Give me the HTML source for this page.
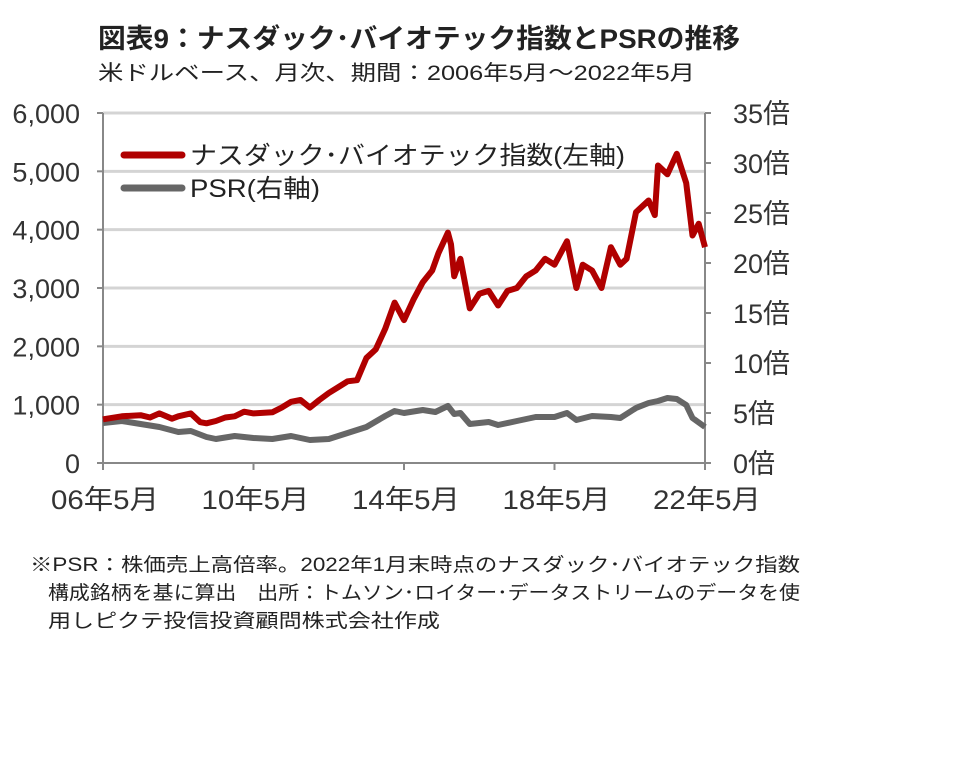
<!DOCTYPE html>
<html><head><meta charset="utf-8">
<style>
body{margin:0;background:#fff;}
svg text{font-family:"Liberation Sans","Noto Sans CJK JP",sans-serif;}
</style></head>
<body>
<svg id="chart" width="964" height="752" viewBox="0 0 964 752" xmlns="http://www.w3.org/2000/svg">
<rect width="964" height="752" fill="#fff"/>
<text x="98" y="48" font-size="27" font-weight="bold" fill="#222" textLength="642" lengthAdjust="spacingAndGlyphs">図表9：ナスダック･バイオテック指数とPSRの推移</text>
<text x="98" y="80" font-size="21" fill="#222" textLength="597" lengthAdjust="spacingAndGlyphs">米ドルベース、月次、期間：2006年5月～2022年5月</text>
<g id="grid"></g>
<g id="axes"></g>
<g id="series"></g>
<g>
<line x1="124" y1="155" x2="182" y2="155" stroke="#b00000" stroke-width="7" stroke-linecap="round"/>
<text x="190" y="164" font-size="25" fill="#222" textLength="435" lengthAdjust="spacingAndGlyphs">ナスダック･バイオテック指数(左軸)</text>
<line x1="124" y1="188" x2="182" y2="188" stroke="#666" stroke-width="7" stroke-linecap="round"/>
<text x="190" y="197" font-size="25" fill="#222" textLength="130" lengthAdjust="spacingAndGlyphs">PSR(右軸)</text>
</g>
<text x="30" y="571" font-size="19" fill="#222" textLength="770" lengthAdjust="spacingAndGlyphs">※PSR：株価売上高倍率。2022年1月末時点のナスダック･バイオテック指数</text>
<text x="48" y="599" font-size="19" fill="#222" textLength="752" lengthAdjust="spacingAndGlyphs">構成銘柄を基に算出　出所：トムソン･ロイター･データストリームのデータを使</text>
<text x="48" y="627" font-size="19" fill="#222" textLength="392" lengthAdjust="spacingAndGlyphs">用しピクテ投信投資顧問株式会社作成</text>
</svg>
<script>
const idxDates=["2006-05","2006-11","2007-05","2007-08","2007-11","2008-03","2008-05","2008-09","2008-12","2009-02","2009-05","2009-08","2009-11","2010-02","2010-05","2010-11","2011-02","2011-05","2011-08","2011-11","2012-02","2012-05","2012-08","2012-11","2013-02","2013-05","2013-08","2013-11","2014-02","2014-05","2014-08","2014-11","2015-02","2015-04","2015-07","2015-08","2015-09","2015-11","2016-02","2016-05","2016-08","2016-11","2017-02","2017-05","2017-08","2017-11","2018-02","2018-05","2018-09","2018-12","2019-02","2019-05","2019-08","2019-11","2020-02","2020-04","2020-07","2020-11","2021-01","2021-02","2021-05","2021-08","2021-11","2022-01","2022-03","2022-05"];
const idxValues=[750,800,820,780,850,760,800,850,700,680,720,780,800,880,850,870,950,1050,1080,950,1080,1200,1300,1400,1420,1800,1950,2300,2750,2450,2800,3100,3300,3600,3950,3750,3200,3500,2650,2900,2950,2700,2950,3000,3200,3300,3500,3400,3800,3000,3400,3300,3000,3700,3400,3500,4300,4500,4250,5100,4950,5300,4800,3900,4100,3700];
const psrDates=["2006-05","2006-11","2007-05","2007-11","2008-05","2008-09","2009-02","2009-05","2009-11","2010-05","2010-11","2011-05","2011-11","2012-05","2012-11","2013-05","2013-11","2014-02","2014-05","2014-11","2015-03","2015-07","2015-09","2015-11","2016-02","2016-08","2016-11","2017-05","2017-11","2018-05","2018-09","2018-12","2019-05","2019-11","2020-02","2020-07","2020-11","2021-02","2021-05","2021-08","2021-11","2022-01","2022-05"];
const psrValues=[4.0,4.2,3.9,3.6,3.1,3.2,2.6,2.4,2.7,2.5,2.4,2.7,2.3,2.4,3.0,3.6,4.7,5.2,5.0,5.3,5.1,5.7,4.9,5.0,3.9,4.1,3.8,4.2,4.6,4.6,5.0,4.3,4.7,4.6,4.5,5.5,6.0,6.2,6.5,6.4,5.8,4.5,3.6];
const leftTicks=[0,1000,2000,3000,4000,5000,6000];
const leftTickLabels=["0","1,000","2,000","3,000","4,000","5,000","6,000"];
const rightTicks=[0,5,10,15,20,25,30,35];
const rightTickLabels=["0倍","5倍","10倍","15倍","20倍","25倍","30倍","35倍"];
const xTicks=["2006-05","2010-05","2014-05","2018-05","2022-05"];
const xTickLabels=["06年5月","10年5月","14年5月","18年5月","22年5月"];

const X0=103,X1=705,Y0=463,Y1=113;
const NS="http://www.w3.org/2000/svg";
function mIdx(d){const [y,m]=d.split("-").map(Number);return (y-2006)*12+(m-5);}
function xs(d){return X0+(X1-X0)*mIdx(d)/192;}
function yl(v){return Y0-(Y0-Y1)*v/6000;}
function yr(v){return Y0-(Y0-Y1)*v/35;}
function mk(tag,attrs,parent){const e=document.createElementNS(NS,tag);for(const k in attrs)e.setAttribute(k,attrs[k]);parent.appendChild(e);return e;}
const grid=document.getElementById("grid"),axes=document.getElementById("axes"),series=document.getElementById("series");
leftTicks.forEach((t,i)=>{
  if(t>0){const g=mk("line",{x1:X0,x2:X1,y1:yl(t),y2:yl(t),stroke:"#d4d4d4","stroke-width":3},grid);
  
  }
  const tk=mk("line",{x1:X0-6,x2:X0,y1:yl(t),y2:yl(t),stroke:"#888","stroke-width":2},axes);
  
  
  const tx=mk("text",{x:X0-23,y:yl(t)+10,"text-anchor":"end","font-size":27,fill:"#333"},axes);
  tx.textContent=leftTickLabels[i];
  
  
});
rightTicks.forEach((t,i)=>{
  const tk=mk("line",{x1:X1,x2:X1+6,y1:yr(t),y2:yr(t),stroke:"#888","stroke-width":2},axes);
  
  
  const tx=mk("text",{x:X1+28,y:yr(t)+10,"font-size":27,fill:"#333"},axes);
  tx.textContent=rightTickLabels[i];
  
  
});
xTicks.forEach((d,i)=>{
  const tk=mk("line",{x1:xs(d),x2:xs(d),y1:Y0,y2:Y0+7,stroke:"#888","stroke-width":2},axes);
  
  
  const tx=mk("text",{x:xs(d)+2,y:Y0+46,"text-anchor":"middle","font-size":27,fill:"#333",textLength:108,lengthAdjust:"spacingAndGlyphs"},axes);
  tx.textContent=xTickLabels[i];
  
  
});
const la=mk("line",{x1:X0,x2:X0,y1:Y1,y2:Y0,stroke:"#888","stroke-width":2},axes);


const ra=mk("line",{x1:X1,x2:X1,y1:Y1,y2:Y0,stroke:"#888","stroke-width":2},axes);


const xa=mk("line",{x1:X0,x2:X1,y1:Y0,y2:Y0,stroke:"#888","stroke-width":2},axes);



const psrPts=psrDates.map((d,i)=>xs(d).toFixed(1)+","+yr(psrValues[i]).toFixed(1)).join(" ");
const pl=mk("polyline",{points:psrPts,fill:"none",stroke:"#666","stroke-width":6,"stroke-linejoin":"round"},series);


const idxPts=idxDates.map((d,i)=>xs(d).toFixed(1)+","+yl(idxValues[i]).toFixed(1)).join(" ");
const il=mk("polyline",{points:idxPts,fill:"none",stroke:"#b00000","stroke-width":6,"stroke-linejoin":"round"},series);


</script>
</body></html>
